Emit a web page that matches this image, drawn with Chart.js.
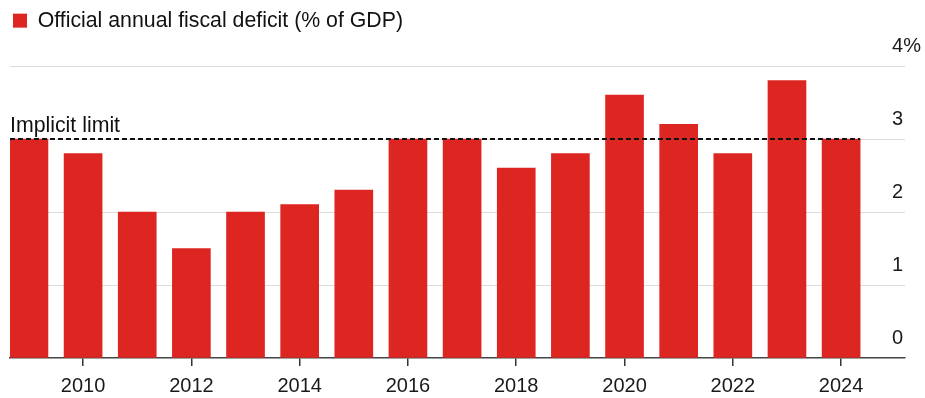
<!DOCTYPE html>
<html>
<head>
<meta charset="utf-8">
<script src="https://cdn.jsdelivr.net/npm/chart.js@4"></script>
<style>
  html, body { margin: 0; padding: 0; background: #fff; }
  #wrap { width: 925px; height: 398px; }
</style>
</head>
<body>
<div id="wrap"><canvas id="deficitChart"></canvas></div>
<script>
// Data
const years = [2009, 2010, 2011, 2012, 2013, 2014, 2015, 2016, 2017, 2018, 2019, 2020, 2021, 2022, 2023, 2024];
const deficit = [3.0, 2.8, 2.0, 1.5, 2.0, 2.1, 2.3, 3.0, 3.0, 2.6, 2.8, 3.6, 3.2, 2.8, 3.8, 3.0];
const xTickYears = [2010, 2012, 2014, 2016, 2018, 2020, 2022, 2024];
const yTickValues = [0, 1, 2, 3, 4];
const yTickLabels = ['0', '1', '2', '3', '4%'];
const implicitLimit = 3;
const seriesLabel = 'Official annual fiscal deficit (% of GDP)';
const limitLabel = 'Implicit limit';

const FONT = "'Liberation Sans', Arial, sans-serif";
const RED = '#dd2522';
const BAR_WIDTH = 38;

// push the plot area down below the legend
const legendSpacer = {
    id: 'legendSpacer',
    beforeInit(chart) {
        const fit = chart.legend.fit;
        chart.legend.fit = function() {
            fit.bind(chart.legend)();
            this.height = 59;
        };
    }
};

// dashed "implicit limit" line with its label
const limitLine = {
    id: 'limitLine',
    afterDatasetsDraw(chart) {
        const ctx = chart.ctx;
        const x = chart.scales.x;
        const y = chart.scales.y;
        const yPx = y.getPixelForValue(implicitLimit);
        const xEnd = x.getPixelForValue(years[years.length - 1]) + BAR_WIDTH / 2;
        ctx.save();
        ctx.strokeStyle = '#111';
        ctx.lineWidth = 2;
        ctx.setLineDash([5, 3]);
        ctx.beginPath();
        ctx.moveTo(chart.chartArea.left, yPx);
        ctx.lineTo(xEnd, yPx);
        ctx.stroke();
        ctx.setLineDash([]);
        ctx.fillStyle = '#111';
        ctx.font = '21.3px ' + FONT;
        ctx.textAlign = 'left';
        ctx.textBaseline = 'alphabetic';
        ctx.fillText(limitLabel, chart.chartArea.left, yPx - 7);
        ctx.restore();
    }
};

const ctx = document.getElementById('deficitChart').getContext('2d');
new Chart(ctx, {
    type: 'bar',
    data: {
        labels: years,
        datasets: [{
            label: seriesLabel,
            data: deficit,
            backgroundColor: RED,
            borderWidth: 0,
            barThickness: BAR_WIDTH
        }]
    },
    options: {
        responsive: true,
        maintainAspectRatio: false,
        animation: false,
        layout: {
            padding: { left: 10, right: -12, top: 7, bottom: -8 }
        },
        plugins: {
            legend: {
                position: 'top',
                align: 'start',
                labels: {
                    boxWidth: 14,
                    boxHeight: 14,
                    padding: 3,
                    color: '#111',
                    font: { family: FONT, size: 21.3 }
                }
            },
            tooltip: { enabled: false }
        },
        scales: {
            x: {
                type: 'linear',
                min: 2008.65,
                max: 2025.18,
                offset: false,
                afterBuildTicks: function(scale) {
                    scale.ticks = xTickYears.map(v => ({ value: v }));
                },
                grid: {
                    display: true,
                    drawOnChartArea: false,
                    drawTicks: true,
                    tickLength: 8,
                    color: '#333',
                    lineWidth: 1.5,
                    offset: false
                },
                border: {
                    display: true,
                    color: '#444',
                    width: 1.5
                },
                ticks: {
                    padding: 8,
                    color: '#1a1a1a',
                    font: { family: FONT, size: 20 },
                    maxRotation: 0,
                    autoSkip: false,
                    callback: function(value) {
                        return String(value);
                    }
                }
            },
            y: {
                position: 'right',
                min: 0,
                max: 4,
                afterBuildTicks: function(scale) {
                    scale.ticks = yTickValues.map(v => ({ value: v }));
                },
                grid: {
                    drawTicks: false,
                    lineWidth: 1,
                    color: function(context) {
                        return context.tick && context.tick.value === 0 ? 'rgba(0,0,0,0)' : '#dcdcdc';
                    }
                },
                border: { display: false },
                ticks: {
                    mirror: true,
                    crossAlign: 'far',
                    padding: 16,
                    labelOffset: -20,
                    color: '#1a1a1a',
                    font: { family: FONT, size: 20 },
                    callback: function(value, index) {
                        return yTickLabels[index];
                    }
                }
            }
        }
    },
    plugins: [legendSpacer, limitLine]
});
</script>
</body>
</html>
